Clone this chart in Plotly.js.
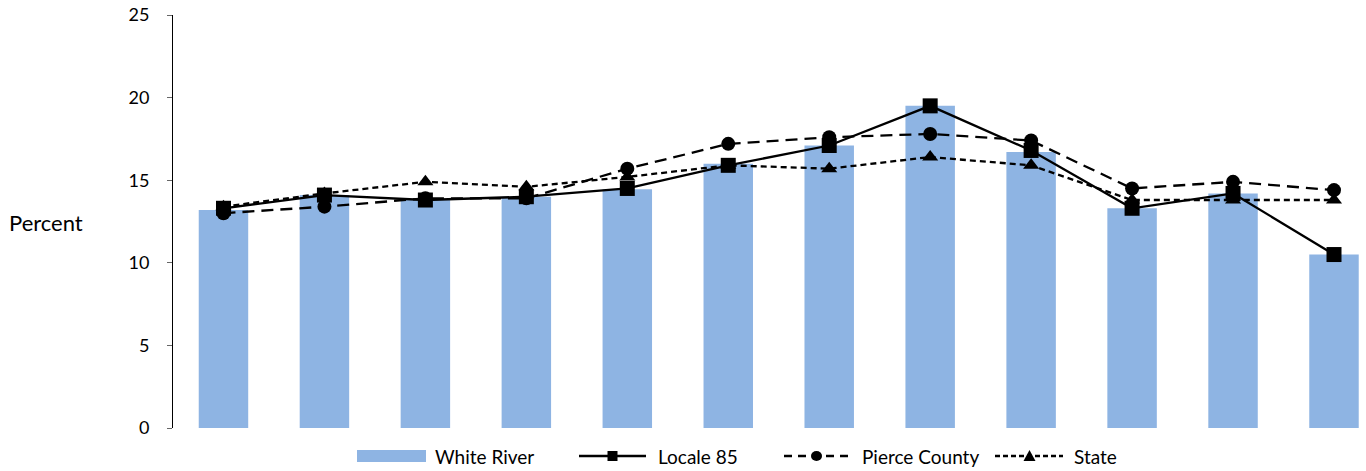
<!DOCTYPE html>
<html>
<head>
<meta charset="utf-8">
<script src="https://cdn.plot.ly/plotly-3.0.1.min.js"></script>
<style>html,body{margin:0;padding:0;background:#fff;}#chart{width:1366px;height:471px;}</style>
</head>
<body>
<div id="chart"></div>
<script>
const categories = ["1","2","3","4","5","6","7","8","9","10","11","12"];
const whiteRiver = [13.2, 14.1, 13.8, 14.0, 14.45, 16.0, 17.1, 19.5, 16.7, 13.3, 14.2, 10.5];
const locale85   = [13.3, 14.1, 13.8, 14.0, 14.5, 15.9, 17.1, 19.5, 16.8, 13.3, 14.2, 10.5];
const pierce     = [13.0, 13.4, 13.9, 13.9, 15.7, 17.2, 17.6, 17.8, 17.4, 14.5, 14.9, 14.4];
const state      = [13.4, 14.2, 14.9, 14.6, 15.2, 15.9, 15.7, 16.4, 15.9, 13.8, 13.8, 13.8];
const yTicks = [0, 5, 10, 15, 20, 25];
const seriesNames = ["White River", "Locale 85", "Pierce County", "State"];

const font = "Lato, 'Open Sans', sans-serif";
const W = 1366, H = 471, ML = 173, MR = 0, MT = 15, MB = 43;
const PW = W - ML - MR, PH = H - MT - MB;
const px = p => (p - ML) / PW;          // page pixel -> paper x
const py = p => (H - MB - p) / PH;      // page pixel -> paper y

const traces = [
  {type:"bar", name:seriesNames[0], x:categories, y:whiteRiver, marker:{color:"#8eb4e3"}},
  {type:"scatter", mode:"lines+markers", name:seriesNames[1], x:categories, y:locale85,
   line:{color:"#000", width:2.3}, marker:{symbol:"square", size:15, color:"#000"}},
  {type:"scatter", mode:"lines+markers", name:seriesNames[2], x:categories, y:pierce,
   line:{color:"#000", width:2.3, dash:"12px,7px"}, marker:{symbol:"circle", size:14, color:"#000"}},
  {type:"scatter", mode:"lines+markers", name:seriesNames[3], x:categories, y:state,
   line:{color:"#000", width:2.3, dash:"6px,4px"}, marker:{symbol:"triangle-up", size:14, color:"#000"}}
];

// custom legend (layout decoration)
const LY = 456;
const shapes = [
  {type:"rect", xref:"paper", yref:"paper", x0:px(357), x1:px(426), y0:py(462), y1:py(450),
   fillcolor:"#8eb4e3", line:{width:0}},
  {type:"line", xref:"paper", yref:"paper", x0:px(579), x1:px(646), y0:py(LY), y1:py(LY),
   line:{color:"#000", width:2.3}},
  {type:"rect", xref:"paper", yref:"paper", x0:px(607.5), x1:px(617.5), y0:py(LY+5), y1:py(LY-5),
   fillcolor:"#000", line:{width:0}},
  {type:"line", xref:"paper", yref:"paper", x0:px(784), x1:px(849), y0:py(LY), y1:py(LY),
   line:{color:"#000", width:2.3, dash:"8px,6px"}},
  {type:"circle", xref:"paper", yref:"paper", x0:px(811), x1:px(822), y0:py(LY+5), y1:py(LY-5),
   fillcolor:"#000", line:{width:0}},
  {type:"line", xref:"paper", yref:"paper", x0:px(995), x1:px(1063), y0:py(LY), y1:py(LY),
   line:{color:"#000", width:2.3, dash:"5px,3px"}},
  {type:"path", xref:"paper", yref:"paper",
   path:`M ${px(1023.5)} ${py(LY+5)} L ${px(1035.5)} ${py(LY+5)} L ${px(1029.5)} ${py(LY-6)} Z`,
   fillcolor:"#000", line:{width:0}}
];
const legendTextX = [433, 656, 860, 1072];
const annotations = seriesNames.map((n, i) => ({
  text:n, xref:"paper", yref:"paper", x:px(legendTextX[i]), xanchor:"left",
  y:py(LY), yanchor:"middle", showarrow:false, font:{family:font, size:19, color:"#000"}
}));
annotations.push({text:"Percent", xref:"paper", yref:"paper", x:px(7), xanchor:"left",
  y:py(222), yanchor:"middle", showarrow:false, font:{family:font, size:22, color:"#000"}});

const layout = {
  width:W, height:H,
  margin:{l:ML, r:MR, t:MT, b:MB},
  paper_bgcolor:"#fff", plot_bgcolor:"#fff",
  font:{family:font, size:18, color:"#000"},
  bargap:0.51,
  showlegend:false,
  xaxis:{type:"category", range:[-0.5, 11.317], showline:false, showticklabels:false,
         ticks:"", showgrid:false, zeroline:false, fixedrange:true},
  yaxis:{range:[0,25], tickvals:yTicks, ticktext:yTicks.map(String), showline:true, linecolor:"#000",
         linewidth:1, ticks:"outside", ticklen:5, tickcolor:"#666", showgrid:false, zeroline:false,
         ticklabelstandoff:14, tickfont:{family:font, size:18, color:"#000"}},
  shapes:shapes,
  annotations:annotations
};
Plotly.newPlot("chart", traces, layout, {staticPlot:true, displayModeBar:false});
</script>
</body>
</html>
